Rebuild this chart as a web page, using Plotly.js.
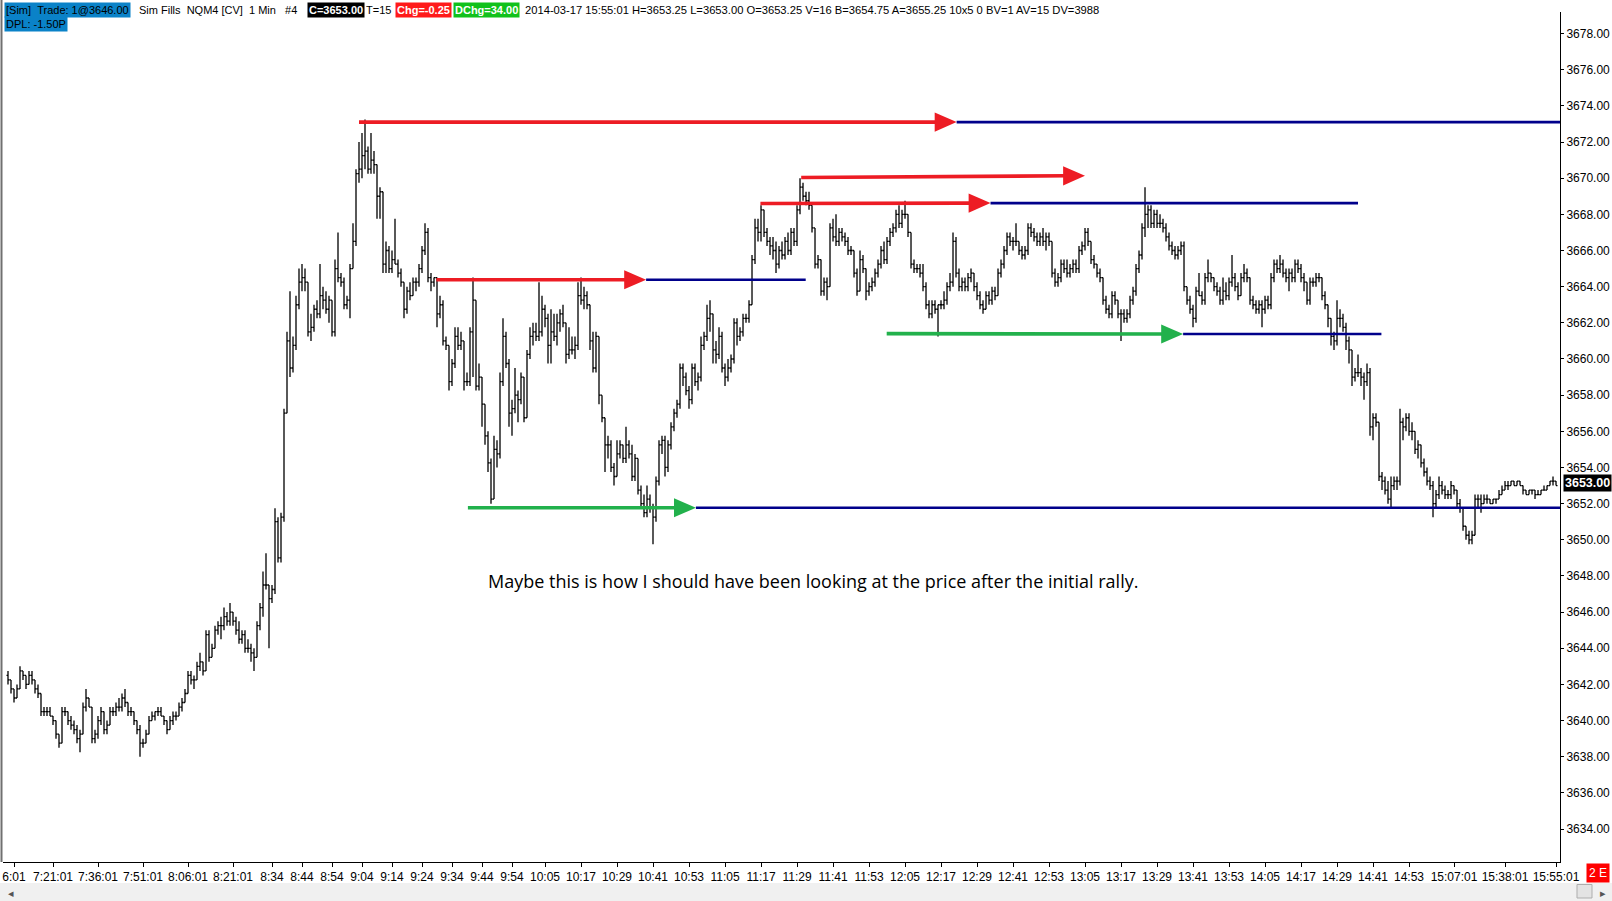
<!DOCTYPE html>
<html>
<head>
<meta charset="utf-8">
<script src="https://cdn.plot.ly/plotly-3.0.1.min.js"></script>
<style>
html,body{margin:0;padding:0;background:#fff;}
#chart{width:1612px;height:901px;}
</style>
</head>
<body>
<div id="chart"></div>
<script>
// ---------- DATA (1-minute bars, NQM4, 2014-03-17) ----------
const barOpen = [
3642.5,3642.25,3641.75,3641.25,3641.75,3642.75,3642.5,3642,3642.5,3642.25,
3641.75,3641.5,3640.5,3640.5,3640.5,3640.25,3640,3639.25,3638.75,3640.5,
3640.5,3640,3639.75,3639.5,3639,3639.25,3640.75,3641.25,3640.75,3639,
3639.25,3640,3640.5,3639.5,3639.75,3640.5,3640.5,3640.75,3640.75,3641.25,
3641,3640.5,3640.5,3640,3639.5,3638.75,3638.75,3639.25,3640,3640.25,
3640.5,3640.5,3640.25,3640,3639.5,3640,3640.25,3640.25,3640.75,3641,
3641.5,3642.5,3642.25,3642.25,3643,3643.25,3642.75,3644.75,3643.5,3644,
3645,3645.25,3645.25,3645.75,3645.5,3646,3645.5,3645,3644.5,3644.75,
3644,3644,3643.75,3643.5,3645.25,3646.25,3647.5,3647.5,3646.75,3647.25,
3651,3649,3651.25,3657,3661,3659.5,3660.75,3663,3664.25,3664.5,
3664.25,3661.5,3661.75,3662.75,3662.5,3663.5,3663.25,3662.75,3663.25,3661.5,
3665,3664.5,3664.25,3663,3663.25,3665,3666.5,3670.25,3670.5,3671.25,
3671.5,3670.5,3671,3670.75,3669,3669.25,3665.25,3666,3665,3665.5,
3665.25,3664.75,3664.25,3662.75,3663.75,3663.5,3664.25,3664.25,3665,3666,
3667,3664.5,3664.25,3664.5,3662.5,3663,3661,3660.75,3658.75,3659.75,
3661.25,3660.75,3661,3658.75,3658.75,3661.5,3663.25,3658.5,3659,3657.5,
3655.75,3654.25,3652.25,3655,3654.75,3658.75,3661.25,3659.75,3657,3657.25,
3658,3657.75,3659,3656.75,3660.25,3661.25,3661.5,3661.25,3661.5,3662.75,
3662.25,3660.75,3661.5,3661.25,3662,3662.5,3662,3660.25,3660.5,3660.5,
3660.75,3663.5,3663.25,3663.5,3663,3661,3659.5,3661.25,3658,3656.75,
3655.25,3655.25,3654,3653.5,3654.75,3655.25,3654.5,3655.25,3654.75,3653.5,
3654.5,3652.75,3652,3651.5,3652.25,3651.75,3651.25,3653.25,3655.25,3655.5,
3654,3655.25,3656.25,3657,3657.5,3659.5,3659,3658.25,3657.75,3659.5,
3658.75,3659,3660.75,3661.25,3662.25,3662.5,3660.5,3660.25,3661.25,3659.5,
3659,3659.5,3660,3662,3661.25,3661.5,3662.25,3662.25,3663,3665.5,
3667.25,3667,3668.25,3667,3666.5,3666.25,3666,3665.25,3666,3665.75,
3666.5,3666,3667,3666.5,3668.25,3669.5,3669,3668.75,3668.5,3667.25,
3665.25,3665.5,3663.75,3664.25,3664,3667.25,3666.75,3666.5,3667,3666.75,
3666.5,3666,3666,3664.75,3663.75,3665.5,3665,3663.75,3664,3664.25,
3664.75,3665.25,3666,3665.5,3666.5,3667,3667.25,3668,3667.5,3668,
3668,3667,3665.25,3665,3665,3664.75,3664,3663,3662.5,3663,
3662.75,3663,3663,3663.25,3664,3664.25,3666.5,3664.75,3664,3664.25,
3664,3664.5,3664.75,3664,3663.5,3663,3662.75,3663.5,3663.25,3663.75,
3663.5,3664.75,3665.25,3666,3666.75,3666.5,3666.5,3666.5,3666,3665.75,
3666,3667.25,3667,3666.75,3666.5,3666.75,3666.5,3666.75,3666.5,3664.75,
3664.25,3664.5,3665.25,3665,3664.75,3665,3665.25,3665,3666,3666.25,
3667,3666.5,3665.5,3665.25,3664.75,3664.5,3663.25,3662.75,3662.5,3663.5,
3663.25,3662.5,3662.5,3662.25,3662.5,3663.25,3663.75,3665,3665.75,3667.25,
3668,3668.25,3667.5,3668,3667.5,3667.5,3667.25,3666.75,3666.25,3666,
3665.75,3666,3666.25,3664,3663.25,3662.75,3662.25,3663.75,3663.5,3663.25,
3664.5,3664.75,3664.5,3664,3663.75,3663.25,3663.75,3663.5,3664.25,3664.5,
3664,3663.5,3664.5,3664.75,3664.5,3663.25,3663,3662.75,3663,3662.75,
3663.25,3663,3664.5,3665.25,3665,3665.25,3664.75,3664.5,3664.75,3664.5,
3665.25,3665,3664.5,3664.25,3663.25,3664.25,3664.25,3664.5,3664.5,3663.5,
3663,3662.25,3661.25,3661,3662.25,3662.25,3661.75,3661,3660.5,3659,
3659.25,3659.25,3659,3658.75,3659.25,3656.25,3656.75,3656.5,3653.5,3653.25,
3652.75,3652.25,3653,3653.25,3653.25,3656.5,3656.25,3656.75,3656,3656,
3655,3655.25,3654.25,3653.75,3653.25,3653,3652,3652.5,3653,3652.75,
3652.5,3652.5,3653,3652.75,3652,3651.75,3650.75,3650.25,3650,3650.25,
3652.25,3652.25,3652,3652.25,3652.25,3652,3652.25,3652.25,3652.5,3652.75,
3653,3653,3653.25,3653,3653.25,3653,3652.75,3652.5,3652.75,3652.75,
3652.5,3652.5,3652.75,3652.75,3653,3653.25,3653.25
];
const barHigh = [
3642.75,3642.25,3641.75,3642,3643,3642.75,3642.5,3642.75,3642.75,3642.25,
3642,3641.5,3640.75,3640.75,3640.75,3640.25,3640,3639.25,3640.75,3640.75,
3640.5,3640.25,3640,3639.75,3639.5,3641,3641.75,3641.25,3640.75,3639.5,
3640.25,3640.75,3640.5,3640,3640.75,3640.75,3641,3641.25,3641.5,3641.75,
3641,3640.75,3640.5,3640,3639.75,3639,3639.5,3640.25,3640.5,3640.5,
3640.75,3640.75,3640.25,3640,3640.25,3640.5,3640.5,3641,3641.25,3641.75,
3642.75,3642.75,3642.5,3643.25,3643.75,3643.25,3645,3645,3644.25,3645.25,
3645.5,3645.75,3646.25,3646,3646.5,3646,3645.75,3645.5,3645,3645,
3644.5,3644.25,3644,3645.5,3646.5,3648.25,3649.25,3647.5,3647.5,3651.75,
3651.25,3651.5,3657.25,3661.5,3663.75,3661.25,3663.5,3665,3665.25,3665,
3664.25,3662.5,3663,3663.25,3665.25,3664,3663.75,3663.5,3663.25,3665.5,
3667,3664.75,3664.5,3663.5,3665.25,3667.5,3670.5,3672,3672.5,3673.25,
3671.75,3672.5,3671.5,3670.75,3669.5,3669.25,3666.5,3666.25,3666,3667.75,
3665.5,3665,3664.25,3664,3664.25,3664.5,3664.5,3665.25,3666.25,3667.5,
3667.25,3664.75,3664.5,3664.5,3663.5,3663.25,3661.25,3660.75,3660,3661.75,
3661.75,3661.5,3661,3659.25,3661.75,3664.5,3663.25,3659.75,3659,3657.5,
3656,3654.5,3655.75,3655.5,3659.25,3662.25,3661.5,3660,3657.75,3659.5,
3658.25,3659.25,3659,3660.5,3661.75,3662,3662,3664.25,3663.5,3663,
3662.5,3662.75,3662.5,3662.5,3662.75,3663,3662,3661.75,3661.25,3661.25,
3664.25,3664.5,3664,3663.75,3663,3661.5,3661.5,3661.25,3658,3656.75,
3655.75,3655.5,3654.25,3655.5,3655.5,3655.25,3656.25,3655.5,3655.25,3654.75,
3654.5,3653,3652.5,3653,3652.5,3652,3653.5,3655.5,3655.75,3655.75,
3655.5,3656.5,3657.25,3657.75,3659.75,3659.75,3659.25,3658.5,3659.75,3659.75,
3659.25,3661.25,3661.5,3663,3663.25,3662.5,3661,3661.75,3661.5,3659.75,
3660,3660.25,3662.25,3662.25,3661.75,3662.5,3662.5,3663.25,3665.75,3667.75,
3667.75,3668.5,3668.25,3667.25,3666.75,3666.75,3666.5,3666.25,3666.5,3666.75,
3667,3667.25,3667.25,3668.5,3670,3669.75,3669.25,3669.25,3668.5,3667.25,
3665.75,3665.5,3664.5,3664.5,3667.5,3667.75,3668,3667.25,3667.25,3667,
3666.75,3666.25,3666,3665,3666,3665.75,3665,3664.25,3664.5,3665,
3665.5,3666.25,3666.5,3666.75,3667.25,3667.5,3668.25,3668.5,3668.25,3668.75,
3668,3667,3665.5,3665.25,3665.25,3665.25,3664.25,3663.25,3663.25,3663.25,
3663,3663.25,3663.75,3664.25,3664.75,3667,3666.75,3665,3664.5,3664.5,
3664.75,3665,3664.75,3664.25,3663.75,3663.25,3663.75,3663.75,3664,3664,
3665,3665.5,3666.25,3667,3667,3666.75,3667.5,3666.5,3666.25,3666.25,
3667.5,3667.5,3667.25,3667,3667,3667.25,3667,3667,3666.5,3665,
3664.75,3665.5,3665.5,3665.5,3665.25,3665.5,3665.5,3666.25,3666.5,3667.25,
3667.25,3666.5,3665.75,3665.25,3665,3664.5,3663.5,3663,3663.75,3663.75,
3663.25,3662.75,3662.75,3662.75,3663.5,3664,3665.25,3666,3667.5,3669.5,
3668.5,3668.5,3668.25,3668.25,3668,3667.75,3667.5,3667,3666.5,3666.25,
3666.25,3666.5,3666.5,3664,3663.5,3663,3664,3664.75,3663.75,3664.75,
3665.5,3664.75,3664.5,3664.25,3664,3664.5,3664.25,3664.5,3665.75,3664.75,
3664.25,3664.75,3665.25,3665,3664.5,3663.5,3663.25,3663.25,3663.25,3663.5,
3663.5,3664.75,3665.5,3665.5,3665.75,3665.5,3665,3665,3665,3665.5,
3665.5,3665.25,3664.75,3664.25,3664.5,3664.5,3664.75,3664.75,3664.5,3663.75,
3663,3662.25,3661.5,3663.25,3662.75,3662.5,3662,3661.25,3660.5,3659.5,
3660.25,3659.5,3659.25,3659.75,3659.5,3657,3657,3656.5,3653.75,3653.5,
3653.25,3653.5,3653.5,3653.5,3657.25,3656.75,3657,3657,3656.5,3656,
3655.5,3655.25,3654.5,3654,3653.5,3653.25,3652.75,3653.5,3653.25,3653,
3652.75,3653.25,3653,3652.75,3652.25,3651.75,3650.75,3650.5,3650.5,3652.5,
3652.5,3652.5,3652.5,3652.5,3652.25,3652.25,3652.25,3652.75,3653,3653.25,
3653.25,3653.25,3653.25,3653.25,3653.25,3653,3652.75,3652.75,3652.75,3652.75,
3652.75,3652.75,3653,3653,3653.25,3653.5,3653.25
];
const barLow = [
3642,3641.5,3641,3641.25,3641.75,3642.25,3641.75,3642,3642,3641.5,
3641.25,3640.25,3640.25,3640.25,3640.25,3639.75,3639,3638.5,3638.75,3640.25,
3639.75,3639.5,3639.25,3638.75,3638.25,3639.25,3640.5,3640.75,3638.75,3638.75,
3639,3639.75,3639.25,3639.25,3639.75,3640.25,3640.25,3640.5,3640.5,3640.75,
3640.25,3640.25,3639.75,3639.25,3638,3638.5,3638.75,3639.25,3640,3640,
3640.25,3640.25,3639.75,3639.25,3639.5,3639.75,3640,3640.25,3640.5,3641,
3641.5,3642,3641.75,3642.25,3642.75,3642.5,3642.75,3643.25,3643.5,3644,
3644.75,3644.5,3645,3645.25,3645.25,3645.25,3644.75,3644.25,3644.25,3643.75,
3643.75,3643.25,3642.75,3643.5,3645,3645.75,3647.25,3644,3646.5,3647,
3648.75,3648.75,3651,3657,3659,3659.25,3660.5,3662.75,3663.75,3663.75,
3661.25,3661,3661.5,3662.25,3662.25,3662.75,3662.5,3662,3661.25,3661.25,
3664.25,3664,3662.75,3662.75,3662.25,3665,3666.25,3669.75,3670,3670.5,
3670.25,3670.25,3670.25,3667.75,3667.75,3664.75,3664.75,3664.75,3664.75,3665.25,
3664.5,3664,3662.25,3662.5,3663.25,3663.5,3663.75,3664,3664.75,3665.75,
3664.25,3663.75,3664,3661.75,3662.25,3660.75,3660.5,3658.25,3658.5,3659.5,
3660.5,3660.5,3658.25,3658.5,3658.5,3659,3658.25,3658.25,3656.25,3655.25,
3653.75,3652,3652.25,3654,3654.5,3658.5,3659.5,3656.25,3655.75,3657,
3656.5,3657.5,3656.5,3656.75,3660,3660.75,3661,3661,3661.25,3661.75,
3659.75,3659.75,3661,3660.75,3661.5,3661.75,3659.75,3660,3660.25,3660,
3660.5,3663,3662.75,3662.75,3660.5,3659.25,3659.25,3657.5,3656.5,3653.75,
3654.5,3653.75,3653,3653.5,3654.5,3654.25,3654.25,3654.5,3653.25,3653.25,
3652.5,3651.75,3651.25,3651.25,3651.5,3649.75,3651,3653,3654.75,3653.5,
3653.75,3655,3656,3656.75,3657.25,3658.5,3658,3657.25,3657.5,3658.5,
3658.25,3658.75,3660.5,3661,3661.5,3659.75,3659.75,3660,3659.25,3658.5,
3658.75,3659.25,3659.75,3660.75,3661,3661.25,3662,3662,3663,3665.25,
3666.5,3666.5,3666.75,3666.25,3665.75,3665.5,3664.75,3665,3665.5,3665.5,
3665.75,3665.75,3666.25,3666.25,3668,3668.75,3668.5,3668.25,3667,3665,
3665,3663.5,3663.5,3663.25,3664,3666.5,3666.25,3666.25,3666.5,3666.25,
3665.75,3665.75,3664.5,3663.5,3663.75,3664.75,3663.25,3663.5,3663.75,3664,
3664.5,3665,3665.25,3665.25,3666.25,3666.75,3667,3667.25,3667.25,3667.75,
3666.75,3665,3664.75,3664.75,3664.5,3663.75,3662.75,3662.25,3662.25,3662.5,
3661.25,3662.75,3662.75,3663,3663.75,3664,3664.5,3663.75,3663.75,3663.75,
3663.75,3664.25,3663.75,3663.25,3662.75,3662.5,3662.75,3663,3663,3663.25,
3663.5,3664.5,3665,3665.75,3666.25,3666,3666.25,3665.75,3665.5,3665.5,
3665.75,3666.75,3666.5,3666.25,3666.25,3666.25,3666,3666.25,3664.5,3664,
3664,3664.25,3664.75,3664.5,3664.5,3664.75,3664.75,3664.75,3665.75,3666,
3666.25,3665.25,3665,3664.5,3664.25,3663,3662.5,3662.25,3662.25,3663,
3662.25,3661,3662,3662,3662.25,3663,3663.5,3664.75,3665.5,3666.75,
3667.25,3667.25,3667.25,3667.25,3667.25,3667,3666.5,3666,3665.75,3665.5,
3665.5,3665.75,3663.75,3663,3662.5,3661.75,3662,3663.5,3663,3663,
3664.25,3664.25,3663.75,3663.5,3663,3663,3663.25,3663.25,3664,3663.75,
3663.25,3663.5,3664.25,3664.25,3663,3662.75,3662.5,3662.5,3661.75,3662.5,
3662.75,3662.75,3664.25,3664.75,3664.75,3664.5,3664.25,3663.75,3664.25,3664.25,
3664.75,3664.25,3663.75,3663,3663,3664,3664,3664.25,3663.25,3662.75,
3661.75,3660.75,3660.5,3660.75,3661.75,3661.5,3660.5,3659.75,3658.5,3658.75,
3659,3658.5,3657.75,3658.5,3655.75,3655.5,3656.25,3653.25,3652.75,3652.5,
3652,3651.75,3652.75,3652.75,3653,3655.5,3656,3655.75,3655.5,3654.75,
3654.5,3654,3653.5,3653,3652.75,3651.25,3651.75,3652.25,3652.5,3652.25,
3652.25,3652.25,3652.5,3651.75,3651.5,3650.5,3650,3649.75,3649.75,3650.25,
3651.75,3651.5,3652,3652,3652,3652,3652,3652.25,3652.5,3652.75,
3652.75,3653,3653,3653,3653,3652.5,3652.5,3652.5,3652.5,3652.25,
3652.5,3652.5,3652.75,3652.75,3653,3653,3653
];
const barClose = [
3642.25,3641.75,3641.25,3641.75,3642.75,3642.5,3642,3642.5,3642.25,3641.75,
3641.5,3640.5,3640.5,3640.5,3640.25,3640,3639.25,3638.75,3640.5,3640.5,
3640,3639.75,3639.5,3639,3639.25,3640.75,3641.25,3640.75,3639,3639.25,
3640,3640.5,3639.5,3639.75,3640.5,3640.5,3640.75,3640.75,3641.25,3641,
3640.5,3640.5,3640,3639.5,3638.75,3638.75,3639.25,3640,3640.25,3640.5,
3640.5,3640.25,3640,3639.5,3640,3640.25,3640.25,3640.75,3641,3641.5,
3642.5,3642.25,3642.25,3643,3643.25,3642.75,3644.75,3643.5,3644,3645,
3645.25,3645.25,3645.75,3645.5,3646,3645.5,3645,3644.5,3644.75,3644,
3644,3643.75,3643.5,3645.25,3646.25,3647.5,3647.5,3646.75,3647.25,3651,
3649,3651.25,3657,3661,3659.5,3660.75,3663,3664.25,3664.5,3664.25,
3661.5,3661.75,3662.75,3662.5,3663.5,3663.25,3662.75,3663.25,3661.5,3665,
3664.5,3664.25,3663,3663.25,3665,3666.5,3670.25,3670.5,3671.25,3671.5,
3670.5,3671,3670.75,3669,3669.25,3665.25,3666,3665,3665.5,3665.25,
3664.75,3664.25,3662.75,3663.75,3663.5,3664.25,3664.25,3665,3666,3667,
3664.5,3664.25,3664.5,3662.5,3663,3661,3660.75,3658.75,3659.75,3661.25,
3660.75,3661,3658.75,3658.75,3661.5,3663.25,3658.5,3659,3657.5,3655.75,
3654.25,3652.25,3655,3654.75,3658.75,3661.25,3659.75,3657,3657.25,3658,
3657.75,3659,3656.75,3660.25,3661.25,3661.5,3661.25,3661.5,3662.75,3662.25,
3660.75,3661.5,3661.25,3662,3662.5,3662,3660.25,3660.5,3660.5,3660.75,
3663.5,3663.25,3663.5,3663,3661,3659.5,3661.25,3658,3656.75,3655.25,
3655.25,3654,3653.5,3654.75,3655.25,3654.5,3655.25,3654.75,3653.5,3654.5,
3652.75,3652,3651.5,3652.25,3651.75,3651.25,3653.25,3655.25,3655.5,3654,
3655.25,3656.25,3657,3657.5,3659.5,3659,3658.25,3657.75,3659.5,3658.75,
3659,3660.75,3661.25,3662.25,3662.5,3660.5,3660.25,3661.25,3659.5,3659,
3659.5,3660,3662,3661.25,3661.5,3662.25,3662.25,3663,3665.5,3667.25,
3667,3668.25,3667,3666.5,3666.25,3666,3665.25,3666,3665.75,3666.5,
3666,3667,3666.5,3668.25,3669.5,3669,3668.75,3668.5,3667.25,3665.25,
3665.5,3663.75,3664.25,3664,3667.25,3666.75,3666.5,3667,3666.75,3666.5,
3666,3666,3664.75,3663.75,3665.5,3665,3663.75,3664,3664.25,3664.75,
3665.25,3666,3665.5,3666.5,3667,3667.25,3668,3667.5,3668,3668,
3667,3665.25,3665,3665,3664.75,3664,3663,3662.5,3663,3662.75,
3663,3663,3663.25,3664,3664.25,3666.5,3664.75,3664,3664.25,3664,
3664.5,3664.75,3664,3663.5,3663,3662.75,3663.5,3663.25,3663.75,3663.5,
3664.75,3665.25,3666,3666.75,3666.5,3666.5,3666.5,3666,3665.75,3666,
3667.25,3667,3666.75,3666.5,3666.75,3666.5,3666.75,3666.5,3664.75,3664.25,
3664.5,3665.25,3665,3664.75,3665,3665.25,3665,3666,3666.25,3667,
3666.5,3665.5,3665.25,3664.75,3664.5,3663.25,3662.75,3662.5,3663.5,3663.25,
3662.5,3662.5,3662.25,3662.5,3663.25,3663.75,3665,3665.75,3667.25,3668,
3668.25,3667.5,3668,3667.5,3667.5,3667.25,3666.75,3666.25,3666,3665.75,
3666,3666.25,3664,3663.25,3662.75,3662.25,3663.75,3663.5,3663.25,3664.5,
3664.75,3664.5,3664,3663.75,3663.25,3663.75,3663.5,3664.25,3664.5,3664,
3663.5,3664.5,3664.75,3664.5,3663.25,3663,3662.75,3663,3662.75,3663.25,
3663,3664.5,3665.25,3665,3665.25,3664.75,3664.5,3664.75,3664.5,3665.25,
3665,3664.5,3664.25,3663.25,3664.25,3664.25,3664.5,3664.5,3663.5,3663,
3662.25,3661.25,3661,3662.25,3662.25,3661.75,3661,3660.5,3659,3659.25,
3659.25,3659,3658.75,3659.25,3656.25,3656.75,3656.5,3653.5,3653.25,3652.75,
3652.25,3653,3653.25,3653.25,3656.5,3656.25,3656.75,3656,3656,3655,
3655.25,3654.25,3653.75,3653.25,3653,3652,3652.5,3653,3652.75,3652.5,
3652.5,3653,3652.75,3652,3651.75,3650.75,3650.25,3650,3650.25,3652.25,
3652.25,3652,3652.25,3652.25,3652,3652.25,3652.25,3652.5,3652.75,3653,
3653,3653.25,3653,3653.25,3653,3652.75,3652.5,3652.75,3652.75,3652.5,
3652.5,3652.75,3652.75,3653,3653.25,3653.25,3653
];

// x-axis tick labels (bar index -> time label)
const tickBars = [2,15,30,45,60,75,88,98,108,118,128,138,148,158,168,179,191,203,215,227,239,251,263,275,287,299,311,323,335,347,359,371,383,395,407,419,431,443,455,467,482,499,516];
const tickLabels = ['6:01','7:21:01','7:36:01','7:51:01','8:06:01','8:21:01','8:34','8:44','8:54','9:04','9:14','9:24','9:34','9:44','9:54','10:05','10:17','10:29','10:41','10:53','11:05','11:17','11:29','11:41','11:53','12:05','12:17','12:29','12:41','12:53','13:05','13:17','13:29','13:41','13:53','14:05','14:17','14:29','14:41','14:53','15:07:01','15:38:01','15:55:01'];

// hand-drawn arrows (bar index / price) and the levels continued from their tips
const arrowFromBar = [117, 264.4, 250.8, 142.8, 292.9, 153.3];
const arrowTipBar  = [316.2, 359, 327.5, 212.7, 391.7, 229.3];
const arrowFromPx  = [3673.1, 3670.04, 3668.6, 3664.38, 3661.4, 3651.77];
const arrowTipPx   = [3673.1, 3670.13, 3668.62, 3664.38, 3661.38, 3651.77];
const arrowKind    = ['up', 'up', 'up', 'up', 'down', 'down'];
const levelEndBar  = [517.33, null, 450, 265.9, 457.8, 517.33];

const lastPrice = 3653.00;
const noteText = 'Maybe this is how I should have been looking at the price after the initial rally.';
const noteBar = 268.2, notePx = 3647.72;

// ---------- BUILD ----------
const W = 1612, H = 901;
const M = {l: 3, r: 52, t: 12, b: 39};
const plotW = W - M.l - M.r, plotH = H - M.t - M.b;
const px2x = px => (px - M.l) / plotW;
const py2y = py => (H - M.b - py) / plotH;

const xIdx = barClose.map((_, i) => i);
const arrowColors = {up: '#ed1c24', down: '#22b14c'};
const levelColor = '#00008b';
const headLen = 7.3, headHalf = 0.53;

const shapes = [];
shapes.push({type:'line', xref:'paper', yref:'paper', x0:px2x(1.5), x1:px2x(1.5), y0:py2y(862), y1:py2y(0), line:{color:'#707070', width:2}});
for (let k = 0; k < arrowTipBar.length; k++) {
  if (levelEndBar[k] !== null) {
    shapes.push({type:'line', xref:'x', yref:'y', x0:arrowTipBar[k], x1:levelEndBar[k], y0:arrowTipPx[k], y1:arrowTipPx[k], line:{color:levelColor, width:2.6}});
  }
}
for (let k = 0; k < arrowTipBar.length; k++) {
  const c = arrowColors[arrowKind[k]];
  const tx = arrowTipBar[k], ty = arrowTipPx[k];
  shapes.push({type:'line', xref:'x', yref:'y', x0:arrowFromBar[k], y0:arrowFromPx[k], x1:tx - headLen + 1, y1:ty, line:{color:c, width:3.6}});
  shapes.push({type:'path', xref:'x', yref:'y', path:`M ${tx-headLen} ${ty-headHalf} L ${tx} ${ty} L ${tx-headLen} ${ty+headHalf} Z`, fillcolor:c, line:{width:0}});
}
shapes.push({type:'rect', xref:'paper', yref:'paper', x0:px2x(0), x1:px2x(1612), y0:py2y(883), y1:py2y(901), fillcolor:'#f0f0f0', line:{width:0}, layer:'below'});
shapes.push({type:'rect', xref:'paper', yref:'paper', x0:px2x(1577), x1:px2x(1592), y0:py2y(884.5), y1:py2y(898), fillcolor:'#e3e3e3', line:{color:'#adadad', width:1}});

const hdrFont = {family:'Liberation Sans, Arial, sans-serif', size:11, color:'#000'};
const hdrBold = c => ({family:'Liberation Sans, Arial, sans-serif', size:11, color:c});
function hdr(text, pxl, pyc, bg, font) {
  return {xref:'paper', yref:'paper', x:px2x(pxl), y:py2y(pyc), xanchor:'left', yanchor:'middle', text:text, showarrow:false, font:font || hdrFont, bgcolor:bg || 'rgba(0,0,0,0)', borderpad:1};
}
const nb = '\u00a0';
const annotations = [
  hdr('[Sim]' + nb + nb + 'Trade: 1@3646.00', 4, 9.5, '#0a82c8'),
  hdr('Sim Fills' + nb + nb + 'NQM4 [CV]' + nb + nb + '1 Min' + nb + nb + nb + '#4', 137, 9.5),
  hdr('<b>C=3653.00</b>', 307, 9.5, '#000000', hdrBold('#fff')),
  hdr('T=15', 364, 9.5),
  hdr('<b>Chg=-0.25</b>', 395, 9.5, '#ff1a1a', hdrBold('#fff')),
  hdr('<b>DChg=34.00</b>', 453, 9.5, '#11c11b', hdrBold('#fff')),
  hdr('2014-03-17 15:55:01 H=3653.25 L=3653.00 O=3653.25 V=16 B=3654.75 A=3655.25 10x5 0 BV=1 AV=15 DV=3988', 523, 9.5, null, {family:'Liberation Sans, Arial, sans-serif', size:11.2, color:'#000'}),
  hdr('DPL: -1.50P', 4, 24, '#0a82c8'),
  {xref:'x', yref:'y', x:noteBar, y:notePx, text:noteText, showarrow:false, xanchor:'center', yanchor:'middle', font:{family:'Open Sans, sans-serif', size:18, color:'#000'}},
  {xref:'paper', yref:'y', x:px2x(1563), y:lastPrice, yshift:3, xanchor:'left', yanchor:'middle', text:'<b>' + lastPrice.toFixed(2) + '</b>', showarrow:false, bgcolor:'#000', borderpad:1, font:{family:'Liberation Sans Narrow, Arial Narrow, sans-serif', size:12.5, color:'#fff'}},
  {xref:'paper', yref:'paper', x:px2x(1598), y:py2y(873.5), xanchor:'center', yanchor:'middle', text:'2 E', showarrow:false, bgcolor:'#ff0000', borderpad:2, font:{family:'Liberation Sans Narrow, Arial Narrow, sans-serif', size:12, color:'#fff'}},
  {xref:'paper', yref:'paper', x:px2x(11), y:py2y(892), xanchor:'center', yanchor:'middle', text:'\u25C2', showarrow:false, font:{size:11, color:'#555'}},
  {xref:'paper', yref:'paper', x:px2x(1603), y:py2y(892), xanchor:'center', yanchor:'middle', text:'\u25B8', showarrow:false, font:{size:11, color:'#555'}}
];

const trace = {
  type:'ohlc', x:xIdx, open:barOpen, high:barHigh, low:barLow, close:barClose,
  increasing:{line:{color:'#000', width:1.3}},
  decreasing:{line:{color:'#000', width:1.3}},
  tickwidth:0.5, hoverinfo:'skip', showlegend:false
};

const axFont = {family:'Liberation Sans Narrow, Arial Narrow, sans-serif', size:12, color:'#000'};
const layout = {
  width:W, height:H, margin:M,
  paper_bgcolor:'#fff', plot_bgcolor:'#fff',
  showlegend:false,
  xaxis:{range:[-1.667, 517.33], showgrid:false, zeroline:false, showline:true, linecolor:'#000', linewidth:1,
         ticks:'outside', ticklen:4, tickcolor:'#000', tickmode:'array', tickvals:tickBars, ticktext:tickLabels,
         tickfont:axFont, rangeslider:{visible:false}, fixedrange:true},
  yaxis:{side:'right', range:[3632.18, 3679.19], showgrid:false, zeroline:false, showline:true, linecolor:'#000', linewidth:1,
         ticks:'outside', ticklen:3, tickcolor:'#000', dtick:2, tick0:3632, tickformat:'.2f', tickfont:axFont, fixedrange:true},
  shapes:shapes,
  annotations:annotations
};

Plotly.newPlot('chart', [trace], layout, {staticPlot:true, displayModeBar:false});
</script>
</body>
</html>
